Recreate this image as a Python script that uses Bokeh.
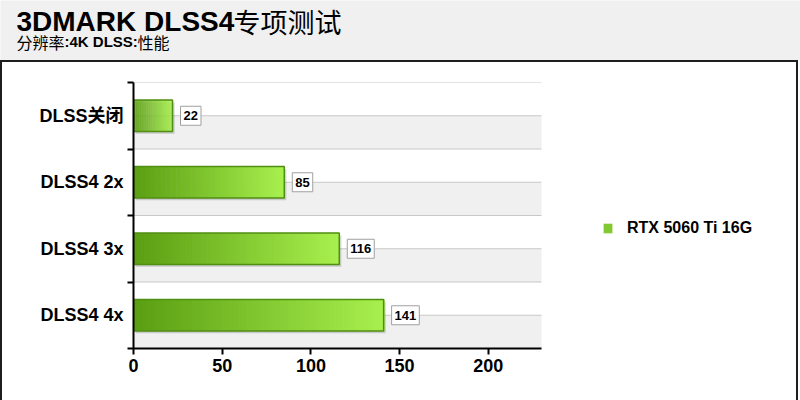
import numpy as np
from bokeh.plotting import figure
from bokeh.models import (ColumnDataSource, FixedTicker, Label, Legend, LegendItem,
                          Range1d, Spacer)
from bokeh.layouts import column, row
from bokeh.core.properties import value
from bokeh.embed import file_html
from bokeh.resources import INLINE

# ---- data ----
title_bold = "3DMARK DLSS4"
title_cjk = "专项测试"
sub_parts = ["分辨率", ":4K DLSS:", "性能"]
categories = ["DLSS关闭", "DLSS4 2x", "DLSS4 3x", "DLSS4 4x"]
values = [22, 85, 116, 141]
series_name = "RTX 5060 Ti 16G"
x_ticks = [0, 50, 100, 150, 200]
x_max = 230

FONT = "Liberation Sans, Noto Sans CJK SC"
CJK = "Noto Sans CJK SC"
DARK = "#1e1e1e"

# ---------------- header ----------------
HW, HH = 800, 60
hdr = figure(width=HW, height=HH, output_backend="svg", toolbar_location=None,
             x_range=Range1d(0, HW), y_range=Range1d(HH, 0),
             x_axis_type=None, y_axis_type=None, min_border=0)
hdr.background_fill_color = "#f0f0f0"
hdr.border_fill_color = "#f0f0f0"
hdr.outline_line_color = None
hdr.grid.visible = False
hdr.add_layout(Label(x=16, y=21, text=title_bold, text_font=FONT,
                     text_font_style="bold", text_font_size="28px",
                     text_color="black", text_baseline="alphabetic"))
hdr.add_layout(Label(x=233, y=21, text=title_cjk, text_font=CJK,
                     text_font_size="27px", text_color="black",
                     text_baseline="alphabetic"))
hdr.add_layout(Label(x=16, y=41, text=sub_parts[0], text_font=CJK,
                     text_font_size="16px", text_color="black",
                     text_baseline="alphabetic"))
hdr.add_layout(Label(x=64, y=41, text=sub_parts[1], text_font=FONT,
                     text_font_style="bold", text_font_size="15px",
                     text_color="black", text_baseline="alphabetic"))
hdr.add_layout(Label(x=137, y=41, text=sub_parts[2], text_font=CJK,
                     text_font_size="16px", text_color="black",
                     text_baseline="alphabetic"))

# ---------------- main chart ----------------
MW, MH = 794, 338
FL, FT, FB = 131, 20, 286          # frame edges in this canvas
plot_px = 408                       # pixels spanned by 0..x_max
frame_w = MW - FL
x_end = x_max * frame_w / plot_px

n = len(categories)
centers = [n - 0.5 - i for i in range(n)]

p = figure(width=MW, height=MH, output_backend="svg", toolbar_location=None,
           x_range=Range1d(0, x_end), y_range=Range1d(0, n),
           min_border_left=FL, min_border_right=0,
           min_border_top=FT, min_border_bottom=MH - FB)
p.border_fill_color = "white"
p.background_fill_color = "white"
p.outline_line_color = None
p.xgrid.grid_line_color = None
p.ygrid.grid_line_color = None

# shaded half-bands and grid lines limited to the value range
p.hbar(y=[c - 0.25 for c in centers], height=0.5, left=0, right=x_max,
       fill_color="#f0f0f0", line_color=None)
grid_y = [k * 0.5 for k in range(2 * n + 1)]
p.segment(x0=[0] * len(grid_y), x1=[x_max] * len(grid_y), y0=grid_y, y1=grid_y,
          line_color="#c8c8c8", line_width=1)

# shadow
p.hbar(y=[c - 0.035 for c in centers], left=[1.2] * n,
       right=[v + 1.2 for v in values], height=0.47,
       fill_color="black", fill_alpha=0.16, line_color=None)

# gradient bars as slices
N = 60
c0 = np.array([0x5a, 0x9e, 0x12])
c1 = np.array([0xa8, 0xf0, 0x4e])
ys, ls, rs, cols = [], [], [], []
for c, v in zip(centers, values):
    for j in range(N):
        t = (j + 0.5) / N
        col = (c0 + (c1 - c0) * t).round().astype(int)
        ys.append(c)
        ls.append(v * j / N)
        rs.append(v * (j + 1) / N + v * 0.004)
        cols.append("#%02x%02x%02x" % tuple(col))
slices = p.hbar(y="y", left="l", right="r", height=0.47, fill_color="c",
                line_color=None,
                source=ColumnDataSource(dict(y=ys, l=ls, r=rs, c=cols)))
src = ColumnDataSource(dict(y=centers, v=values, t=[str(v) for v in values]))
p.hbar(y="y", left=0, right="v", height=0.47, fill_alpha=0,
       line_color="#4f8f12", line_width=1.5, source=src)

# value labels
p.text(x="v", y="y", text="t", source=src, x_offset=8,
       text_font=value("Liberation Sans"), text_font_style="bold",
       text_font_size="13px", text_color="black",
       text_align="left", text_baseline="middle", anchor="center_left",
       background_fill_color="white", border_line_color="#a0a0a0",
       border_line_width=1, padding=(3, 5))

# axes
p.xaxis.ticker = FixedTicker(ticks=x_ticks)
p.xaxis.bounds = (0, x_max)
p.xaxis.axis_line_width = 2
p.xaxis.axis_line_color = "black"
p.xaxis.major_tick_line_width = 2
p.xaxis.major_tick_line_color = "black"
p.xaxis.major_tick_out = 6
p.xaxis.major_tick_in = 0
p.xaxis.minor_tick_line_color = None
p.xaxis.major_label_text_font = FONT
p.xaxis.major_label_text_font_style = "bold"
p.xaxis.major_label_text_font_size = "18px"
p.xaxis.major_label_text_color = "black"
p.xaxis.major_label_standoff = 4

p.yaxis.ticker = FixedTicker(ticks=centers, minor_ticks=[k for k in range(n + 1)])
p.yaxis.major_label_overrides = {c: lab for c, lab in zip(centers, categories)}
p.yaxis.axis_line_width = 2
p.yaxis.axis_line_color = "black"
p.yaxis.major_tick_line_color = None
p.yaxis.minor_tick_line_color = "black"
p.yaxis.minor_tick_line_width = 2
p.yaxis.minor_tick_out = 6
p.yaxis.minor_tick_in = 0
p.yaxis.major_label_text_font = FONT
p.yaxis.major_label_text_font_style = "bold"
p.yaxis.major_label_text_font_size = "18px"
p.yaxis.major_label_text_color = "black"
p.yaxis.major_label_standoff = 4

# legend
legend = Legend(items=[LegendItem(label=series_name, renderers=[slices], index=N // 2)],
                location=(469, 111),
                border_line_color=None, background_fill_alpha=0,
                glyph_width=11, glyph_height=12, label_standoff=14,
                label_text_font=FONT, label_text_font_style="bold",
                label_text_font_size="16px", label_text_color="black")
p.add_layout(legend, "center")

# ---------------- assemble ----------------
topline = Spacer(width=798, height=2, styles={"background-color": DARK})
lline = Spacer(width=2, height=MH, styles={"background-color": DARK})
rline = Spacer(width=2, height=MH, styles={"background-color": DARK})
layout = column(hdr, topline, row(lline, p, rline))

open("out.html", "w").write(file_html(layout, INLINE))
